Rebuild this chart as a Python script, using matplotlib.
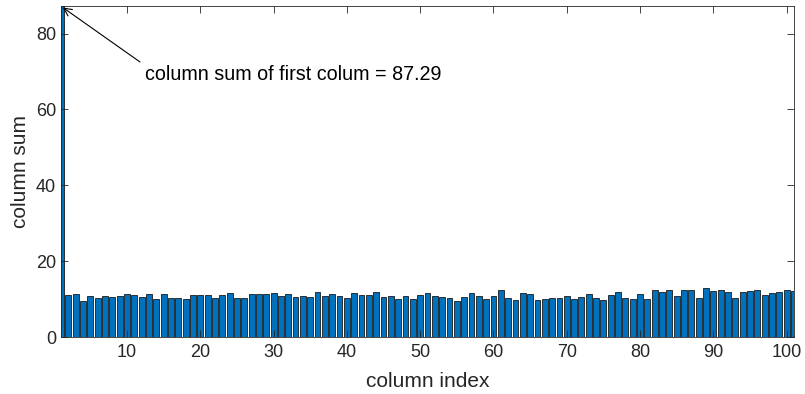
import matplotlib
matplotlib.use("Agg")
import matplotlib.pyplot as plt
import numpy as np

plt.rcParams['font.family'] = ['Liberation Sans', 'DejaVu Sans']

column_sums = [
    87.29, 11.05, 11.3, 9.56, 10.7, 10.2, 10.9, 10.6, 10.8, 11.3,
    11.05, 10.5, 11.3, 9.9, 11.3, 10.35, 10.4, 10.1, 11.0, 11.2,
    11.2, 10.4, 11.1, 11.6, 10.3, 10.3, 11.3, 11.3, 11.4, 11.7,
    10.8, 11.4, 10.5, 10.8, 10.6, 11.8, 10.8, 11.3, 10.9, 10.3,
    11.5, 11.0, 11.05, 11.9, 10.5, 10.9, 10.1, 10.9, 9.9, 11.0,
    11.5, 10.8, 10.6, 10.3, 9.4, 10.5, 11.5, 10.8, 10.1, 10.9,
    12.3, 10.2, 9.65, 11.5, 11.4, 9.65, 9.9, 10.4, 10.35, 10.7,
    9.9, 10.6, 11.3, 10.4, 9.65, 11.2, 11.9, 10.35, 10.1, 11.3,
    10.1, 12.5, 11.75, 12.45, 10.7, 12.4, 12.4, 10.4, 12.9, 12.1,
    12.5, 11.9, 10.3, 11.75, 12.0, 12.5, 11.2, 11.5, 11.75, 12.4,
    12.1,
]
column_index = list(range(1, len(column_sums) + 1))
x_ticks = [10, 20, 30, 40, 50, 60, 70, 80, 90, 100]
y_ticks = [0, 20, 40, 60, 80]
annot_text = "column sum of first colum = 87.29"

axc = '#262626'
fig = plt.figure(figsize=(8.05, 3.94), dpi=100)
ax = fig.add_axes([61/805, 1-337/394, (794-61)/805, (337-6)/394])

ax.bar(column_index, column_sums, width=0.8, color='#0072BD',
       edgecolor='#1a1a1a', linewidth=0.6)

ax.set_xlim(1, 101)
ax.set_ylim(0, column_sums[0])
ax.set_xticks(x_ticks)
ax.set_yticks(y_ticks)
ax.tick_params(direction='in', length=5, width=0.6, colors=axc,
               labelsize=13, top=True, right=True, labelcolor=axc)
ax.tick_params(axis='x', pad=5)
for s in ax.spines.values():
    s.set_color(axc)
    s.set_linewidth(0.6)

ax.set_xlabel('column index', fontsize=15, color=axc, labelpad=8)
ax.set_ylabel('column sum', fontsize=15, color=axc, labelpad=4)

ax.annotate(annot_text, xy=(1.25, column_sums[0] - 0.4),
            xytext=(145/805, 1-75/394), textcoords='figure fraction',
            fontsize=14.2, color='black', va='center', ha='left',
            arrowprops=dict(arrowstyle='->', color='black', lw=0.8,
                            shrinkA=2, shrinkB=0, mutation_scale=14,
                            relpos=(0, 1)))

fig.savefig('out.png', dpi=100)
